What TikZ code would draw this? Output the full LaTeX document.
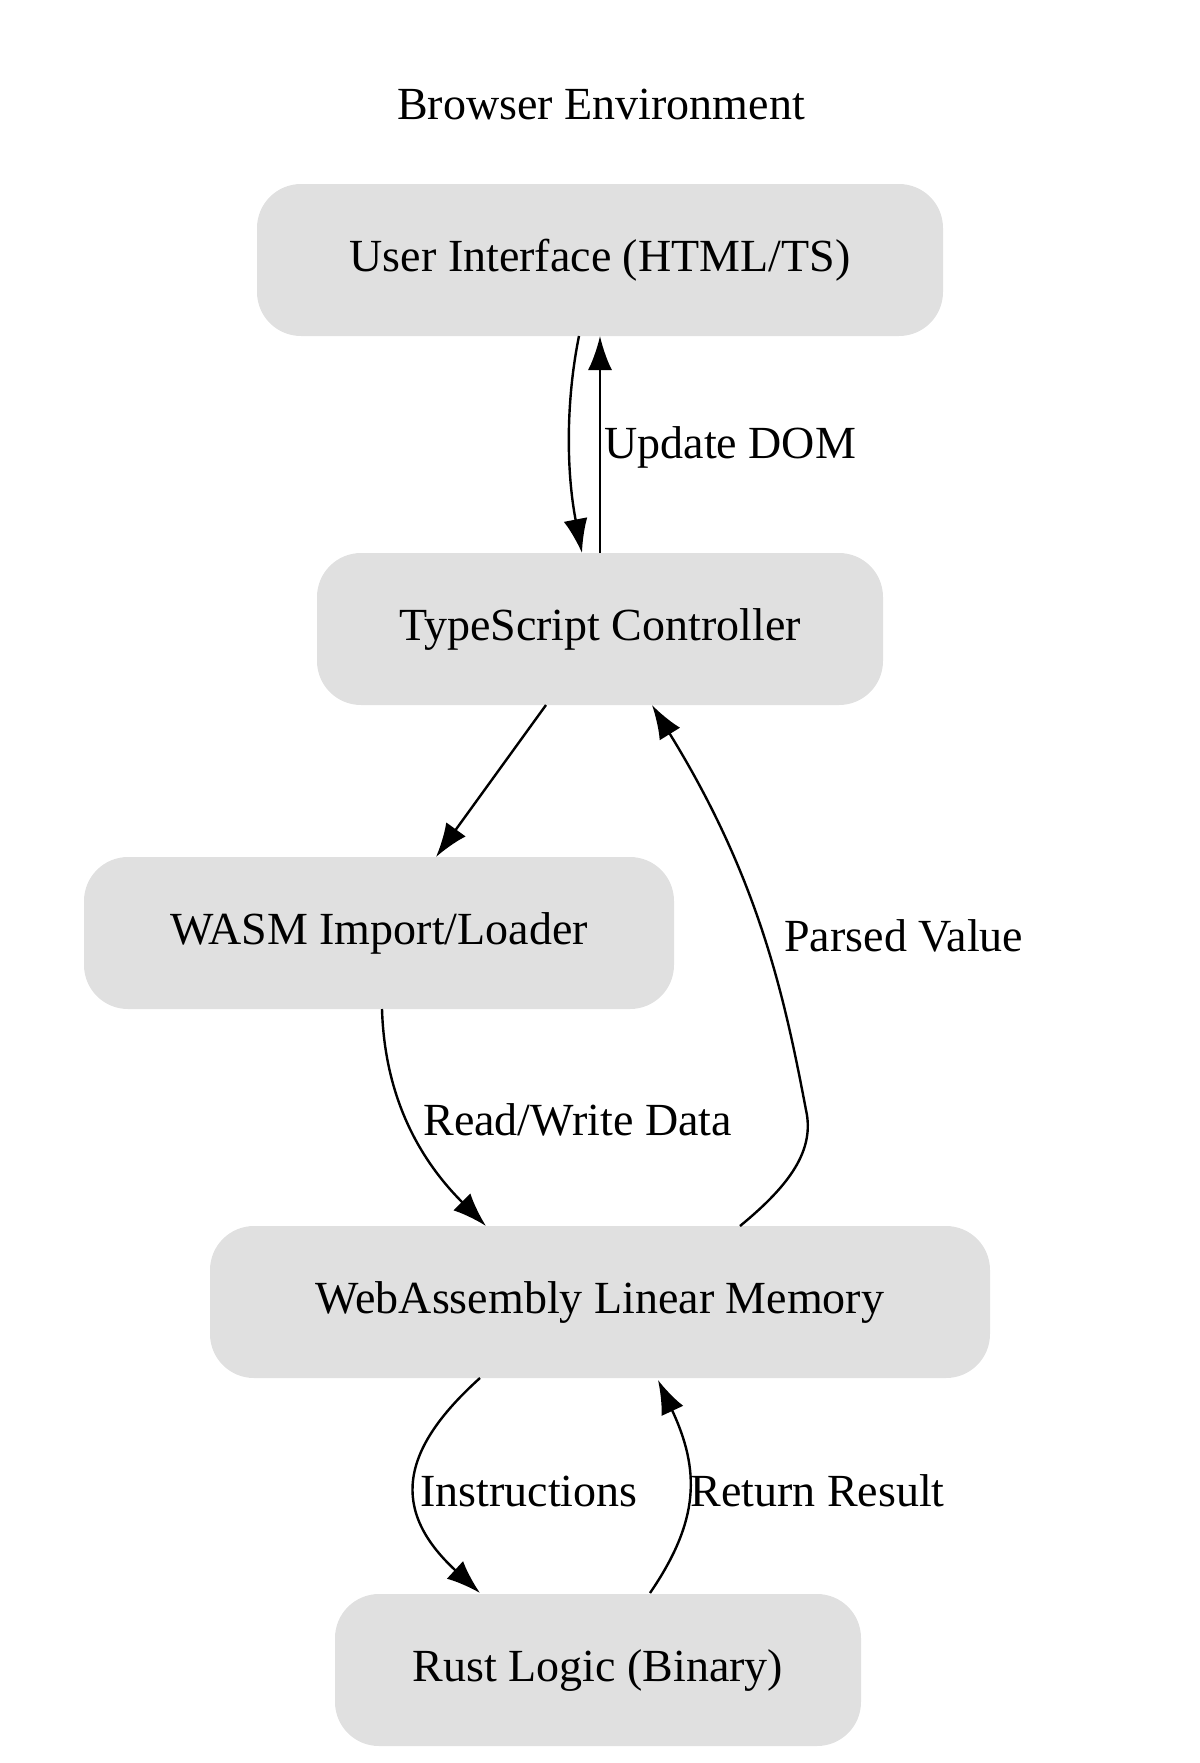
\documentclass[tikz,border=0pt]{standalone}
\usepackage{fontspec}
\setmainfont{Liberation Serif}
\usetikzlibrary{arrows.meta}
\begin{document}
\begin{tikzpicture}[x=0.5pt,y=-0.5pt,
  box/.style={fill=black!12,rounded corners=22pt,minimum height=76pt,inner sep=0pt,font=\fontsize{23}{26}\selectfont},
  lab/.style={font=\fontsize{23}{26}\selectfont,anchor=west,inner sep=0pt},
  e/.style={-{Latex[length=17pt,width=12pt]},line width=1.2pt}]
\useasboundingbox (0,0) rectangle (1200,1763);
\node[font=\fontsize{23}{26}\selectfont] (title) at (601,104) {Browser Environment};
\node[box,minimum width=343pt] (ui) at (600,260) {User Interface (HTML/TS)};
\node[box,minimum width=283pt] (ts) at (600,629) {TypeScript Controller};
\node[box,minimum width=295pt] (wasm) at (379,933) {WASM Import/Loader};
\node[box,minimum width=390pt] (mem) at (600,1302) {WebAssembly Linear Memory};
\node[box,minimum width=263pt] (rust) at (598,1670) {Rust Logic (Binary)};
\draw[e] (579,336) .. controls (566,400) and (566,470) .. (582,553);
\draw[e] (600,553) -- (600,336);
\node[lab] (l1) at (604,447) {Update DOM};
\draw[e] (546,705) -- (436,857);
\draw[e] (382,1009) .. controls (385,1110) and (430,1170) .. (486,1226);
\node[lab] (l2) at (423,1120) {Read/Write Data};
\draw[e] (740,1226) .. controls (790,1185) and (815,1150) .. (806,1110) .. controls (785,1000) and (760,880) .. (652,705);
\node[lab] (l3) at (784,936) {Parsed Value};
\draw[e] (480,1378) .. controls (400,1450) and (390,1510) .. (480,1593);
\node[lab] (l4) at (420,1491) {Instructions};
\draw[e] (650,1593) .. controls (700,1520) and (700,1470) .. (658,1380);
\node[lab] (l5) at (690,1491) {Return Result};
\end{tikzpicture}
\end{document}
